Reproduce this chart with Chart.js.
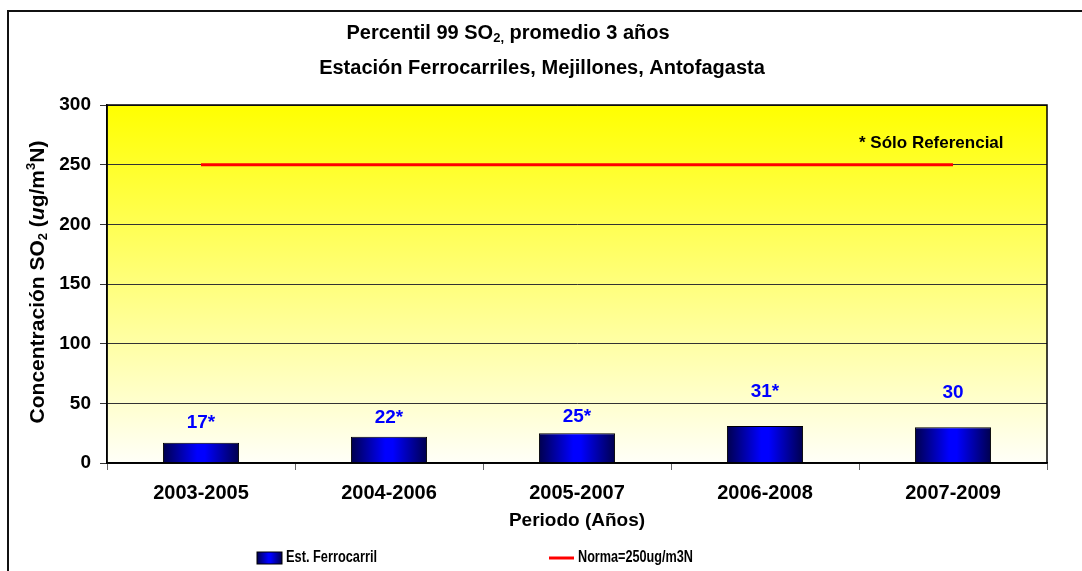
<!DOCTYPE html>
<html>
<head>
<meta charset="utf-8">
<script src="https://cdn.jsdelivr.net/npm/chart.js@4/dist/chart.umd.min.js"></script>
<style>
  body { margin: 0; background: #fff; }
  #wrap { position: relative; width: 1082px; height: 571px; }
</style>
</head>
<body>
<div id="wrap"><canvas id="so2Chart"></canvas></div>
<script>
// data
const periods = ['2003-2005', '2004-2006', '2005-2007', '2006-2008', '2007-2009'];
const percentil99 = [17, 22, 25, 31, 30];
const soloReferencial = [true, true, true, true, false];
const norma = [250, 250, 250, 250, 250];
const yTicks = [0, 50, 100, 150, 200, 250, 300];

const FONT = "'Liberation Sans', Arial, sans-serif";
const BAR_PCT = 0.405;
// how high each value label sits above its bar (px)
const labelLift = [20, 19, 16, 34, 34];

function blueGradient(ctx, x0, x1) {
    const g = ctx.createLinearGradient(x0, 0, x1, 0);
    g.addColorStop(0, '#00004d');
    g.addColorStop(0.45, '#0000ff');
    g.addColorStop(0.55, '#0000ff');
    g.addColorStop(1, '#00004d');
    return g;
}

function barFill(context) {
    const chart = context.chart;
    if (!chart.chartArea) return '#0000ff';
    const xs = chart.scales.x;
    const cx = xs.getPixelForValue(context.dataIndex);
    const half = xs.width / periods.length * BAR_PCT / 2;
    return blueGradient(chart.ctx, cx - half, cx + half);
}

// draws text made of pieces (sub/superscripts, italics); centred on x
function drawRich(ctx, parts, x, y) {
    let total = 0;
    parts.forEach(p => { ctx.font = p.font; total += ctx.measureText(p.text).width; });
    let cx = x - total / 2;
    ctx.textAlign = 'left';
    parts.forEach(p => {
        ctx.font = p.font;
        ctx.fillText(p.text, cx, y + (p.dy || 0));
        cx += ctx.measureText(p.text).width;
    });
    return total;
}

const extras = {
    id: 'extras',
    beforeDraw(chart) {
        const {ctx, chartArea: a} = chart;
        ctx.save();
        // outer frame
        ctx.strokeStyle = '#111';
        ctx.lineWidth = 2;
        ctx.beginPath();
        ctx.moveTo(8, 571);
        ctx.lineTo(8, 11);
        ctx.lineTo(1082, 11);
        ctx.stroke();
        // plot background
        const g = ctx.createLinearGradient(0, a.top, 0, a.bottom);
        g.addColorStop(0, '#ffff00');
        g.addColorStop(1, '#fffff8');
        ctx.fillStyle = g;
        ctx.fillRect(a.left, a.top, a.right - a.left, a.bottom - a.top);
        ctx.restore();
    },
    afterDraw(chart) {
        const {ctx, chartArea: a} = chart;
        const ys = chart.scales.y;
        ctx.save();
        // plot frame
        ctx.strokeStyle = '#000';
        ctx.lineWidth = 1.5;
        ctx.strokeRect(a.left, a.top, a.right - a.left, a.bottom - a.top);

        // title
        ctx.fillStyle = '#000';
        ctx.textBaseline = 'middle';
        const big = 'bold 20px ' + FONT;
        const sub = 'bold 13px ' + FONT;
        drawRich(ctx, [
            {text: 'Percentil 99 SO', font: big},
            {text: '2,', font: sub, dy: 5},
            {text: ' promedio 3 años', font: big}
        ], 508, 33);
        drawRich(ctx, [
            {text: 'Estación Ferrocarriles, Mejillones, Antofagasta', font: big}
        ], 542, 68);

        // y axis title
        ctx.save();
        ctx.translate(38, 282);
        ctx.rotate(-Math.PI / 2);
        const yt = 'bold 21px ' + FONT;
        const ys2 = 'bold 13px ' + FONT;
        drawRich(ctx, [
            {text: 'Concentración SO', font: yt},
            {text: '2', font: ys2, dy: 5},
            {text: ' (', font: yt},
            {text: 'u', font: 'italic ' + yt},
            {text: 'g/m', font: yt},
            {text: '3', font: ys2, dy: -7},
            {text: 'N)', font: yt}
        ], 0, 0);
        ctx.restore();

        // value labels above bars
        ctx.fillStyle = '#0000ff';
        ctx.textAlign = 'center';
        ctx.font = 'bold 19px ' + FONT;
        chart.getDatasetMeta(0).data.forEach((bar, i) => {
            const txt = percentil99[i] + (soloReferencial[i] ? '*' : '');
            ctx.fillText(txt, bar.x, bar.y - labelLift[i]);
        });

        // note near the norm line
        ctx.fillStyle = '#000';
        ctx.textAlign = 'left';
        ctx.font = 'bold 17px ' + FONT;
        ctx.fillText('* Sólo Referencial', a.right - 188, ys.getPixelForValue(norma[0]) - 21, 147);

        // legend
        const ly = 558;
        const bx = 257;
        ctx.fillStyle = blueGradient(ctx, bx, bx + 25);
        ctx.fillRect(bx, ly - 6, 25, 12);
        ctx.strokeStyle = '#000';
        ctx.lineWidth = 1;
        ctx.strokeRect(bx, ly - 6, 25, 12);
        ctx.fillStyle = '#000';
        ctx.font = 'bold 16px ' + FONT;
        ctx.fillText(chart.data.datasets[0].label, bx + 29, ly, 91);
        const lx = 549;
        ctx.strokeStyle = '#ff0000';
        ctx.lineWidth = 3;
        ctx.beginPath();
        ctx.moveTo(lx, ly);
        ctx.lineTo(lx + 25, ly);
        ctx.stroke();
        ctx.fillText(chart.data.datasets[1].label, lx + 29, ly, 115);
        ctx.restore();
    }
};

const ctx = document.getElementById('so2Chart').getContext('2d');
new Chart(ctx, {
    data: {
        labels: periods,
        datasets: [{
            type: 'bar',
            label: 'Est. Ferrocarril',
            data: percentil99,
            backgroundColor: barFill,
            borderColor: '#000',
            borderWidth: 1,
            categoryPercentage: 1,
            barPercentage: BAR_PCT,
            order: 2
        }, {
            type: 'line',
            label: 'Norma=250ug/m3N',
            data: norma,
            borderColor: '#ff0000',
            borderWidth: 3,
            pointRadius: 0,
            fill: false,
            order: 1
        }]
    },
    options: {
        responsive: true,
        maintainAspectRatio: false,
        animation: false,
        layout: { padding: { left: 0, right: 35, top: 105, bottom: 0 } },
        plugins: {
            legend: { display: false },
            title: { display: false },
            tooltip: { enabled: false }
        },
        scales: {
            x: {
                offset: true,
                afterFit(scale) { scale.height = 108; },
                grid: {
                    offset: true,
                    drawOnChartArea: false,
                    tickLength: 7,
                    tickColor: '#666'
                },
                border: { color: '#000', width: 1.5 },
                ticks: {
                    color: '#000',
                    padding: 11,
                    maxRotation: 0,
                    font: { family: FONT, size: 20, weight: 'bold' }
                },
                title: {
                    display: true,
                    text: 'Periodo (Años)',
                    color: '#000',
                    padding: { top: 0, bottom: 39 },
                    font: { family: FONT, size: 19, weight: 'bold' }
                }
            },
            y: {
                min: 0,
                max: 300,
                afterFit(scale) { scale.width = 107; },
                afterBuildTicks(scale) { scale.ticks = yTicks.map(v => ({ value: v })); },
                grid: {
                    color: '#333',
                    lineWidth: 1,
                    tickLength: 7,
                    tickColor: '#333'
                },
                border: { color: '#000', width: 1.5 },
                ticks: {
                    color: '#000',
                    padding: 9,
                    font: { family: FONT, size: 19, weight: 'bold' }
                }
            }
        }
    },
    plugins: [extras]
});
</script>
</body>
</html>
